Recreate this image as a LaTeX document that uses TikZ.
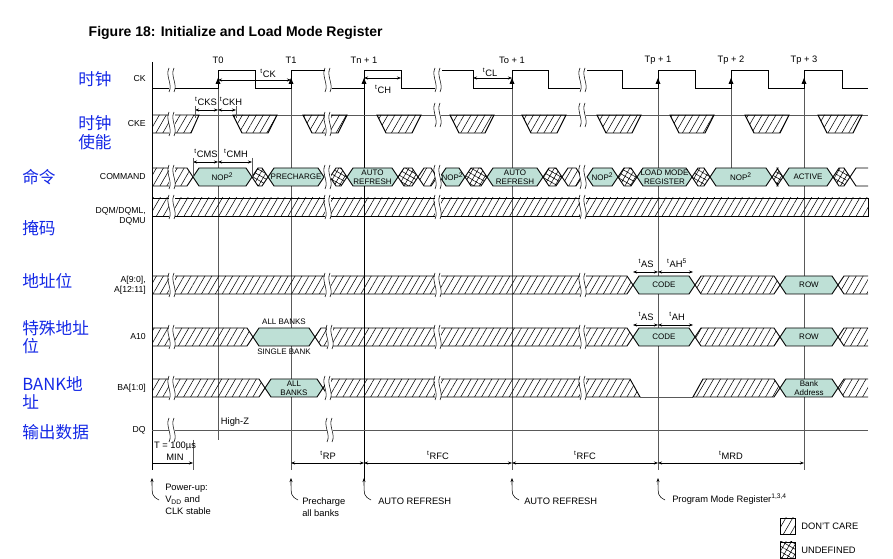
\documentclass[tikz,border=0pt]{standalone}
\usepackage{fontspec}
\setmainfont{Liberation Sans}
\newfontfamily\cjk{Noto Sans CJK SC}
\usetikzlibrary{patterns.meta,arrows.meta}
\definecolor{teal1}{RGB}{190,224,214}
\definecolor{cnblue}{RGB}{20,40,230}
\tikzset{hatch/.style={pattern={Lines[angle=60,distance=4.5pt,line width=0.4pt]}},
 xhatch/.style={pattern={Hatch[angle=60,distance=3.5pt,line width=0.4pt]}}}
\newcommand\vseg[4]{\filldraw[sig,fill=teal1] (#1,#3) -- ({#1+6},{#3-9}) -- ({#2-6},{#3-9}) -- (#2,#3) -- ({#2-6},{#3+9}) -- ({#1+6},{#3+9}) -- cycle;
 \node[lbl,align=center] at ({(#1+#2)/2},#3) {#4};}
\newcommand\hseg[3]{\filldraw[sig,hatch] (#1,#3) -- ({#1+6},{#3-9}) -- ({#2-6},{#3-9}) -- (#2,#3) -- ({#2-6},{#3+9}) -- ({#1+6},{#3+9}) -- cycle;}
\newcommand\xseg[3]{\filldraw[sig,xhatch] (#1,#3) -- ({#1+6},{#3-9}) -- ({#2-6},{#3-9}) -- (#2,#3) -- ({#2-6},{#3+9}) -- ({#1+6},{#3+9}) -- cycle;}
\newcommand\brk[2]{\fill[white] ({#1-3},{#2-12}) rectangle ({#1+3},{#2+12});
 \draw[thin] ({#1-3},{#2-12}) .. controls ({#1-7},{#2-4}) and ({#1+1},{#2+4}) .. ({#1-3},{#2+12});
 \draw[thin] ({#1+2},{#2-12}) .. controls ({#1-2},{#2-4}) and ({#1+6},{#2+4}) .. ({#1+2},{#2+12});}
\newcommand\trap[2]{\filldraw[sig,hatch] (#1,115) -- (#2,115) -- ({#2-9},133) -- ({#1+9},133) -- cycle;}
\begin{document}
\begin{tikzpicture}[x=0.75pt,y=-0.75pt,
 sig/.style={line width=0.7pt},
 ref/.style={gray!70!black,line width=0.4pt},
 lbl/.style={font=\fontsize{6}{6.5}\selectfont,inner sep=0pt},
 tl/.style={font=\fontsize{7}{8}\selectfont,inner sep=0pt},
 cn/.style={font=\cjk\fontsize{12.5}{14}\selectfont,text=cnblue,anchor=west,align=left,inner sep=0pt},
 sn/.style={font=\fontsize{6.5}{7.5}\selectfont,anchor=east,align=right,inner sep=0pt},
 dim/.style={{Stealth[length=3pt]}-{Stealth[length=3pt]},line width=0.4pt},
 up/.style={-{Stealth[length=3pt]},line width=0.4pt}]
\path[use as bounding box] (0,0) rectangle (893,559);
\node[font=\bfseries\fontsize{10.5}{12}\selectfont,anchor=west] (title) at (84,33) {Figure 18: Initialize and Load Mode Register};
% chinese labels
\node[cn] (c1) at (78,79) {时钟};
\node[cn] (c2) at (78,133) {时钟\\使能};
\node[cn] (c3) at (22,177) {命令};
\node[cn] (c4) at (22,228) {掩码};
\node[cn] (c5) at (22,281) {地址位};
\node[cn] (c6) at (22,337) {特殊地址\\位};
\node[cn] (c7) at (22,393) {BANK地\\址};
\node[cn] (c8) at (22,432) {输出数据};
% signal names
\node[sn] (s1) at (146,79) {CK};
\node[sn] (s2) at (146,124) {CKE};
\node[sn] (s3) at (146,177) {COMMAND};
\node[sn] (s4) at (146,216) {DQM/DQML,\\DQMU};
\node[sn] (s5) at (146,285) {A[9:0],\\A[12:11]};
\node[sn] (s6) at (146,337) {A10};
\node[sn] (s7) at (146,388) {BA[1:0]};
\node[sn] (s8) at (146,430) {DQ};
% reference lines
\draw[line width=0.5pt] (152,62) -- (152,470);
\foreach \x/\b in {218/440,291/470,512/470,658/470,804/470}{\draw[ref] (\x,88) -- (\x,\b);}
\draw[ref] (731,88) -- (731,177);
\draw[line width=0.6pt] (364,88) -- (364,480);
% time labels
\foreach \x/\t in {218/T0,291/T1,364/Tn + 1,512/To + 1,658/Tp + 1,731/Tp + 2,804/Tp + 3}{\node[tl] at (\x,60) {\t};}
% clock
\draw[sig] (152,88) -- (218,88) -- (218,70) -- (255,70) -- (255,88) -- (291,88) -- (291,70) -- (325,70);
\draw[sig] (332,88) -- (364,88) -- (364,70) -- (401,70) -- (401,88) -- (435,88);
\draw[sig] (442,70) -- (473,70) -- (473,88) -- (512,88) -- (512,70) -- (548,70) -- (548,88) -- (580,88);
\draw[sig] (587,70) -- (622,70) -- (622,88) -- (658,88) -- (658,70) -- (695,70) -- (695,88) -- (731,88) -- (731,70) -- (768,70) -- (768,88) -- (804,88) -- (804,70) -- (842,70) -- (842,88) -- (868,88);
\foreach \x in {218,291,364,512,658,731,804}{\fill (\x,78) -- ({\x-2.5},84) -- ({\x+2.5},84) -- cycle;}
\brk{172}{80}\brk{328}{80}\brk{438}{80}\brk{583}{80}
\draw[dim] (218,80) -- (291,80); \node[tl] at (268,73) {\textsuperscript{t}CK};
\draw[dim] (364,78) -- (401,78); \node[tl] at (383,89) {\textsuperscript{t}CH};
\draw[dim] (473,78) -- (512,78); \node[tl] at (490,72) {\textsuperscript{t}CL};
% CKE
\draw[ref] (193,115) -- (868,115);
\filldraw[sig,hatch] (152,115) -- (199,115) -- (191,133) -- (152,133);
\foreach \a in {233,303,377,450,522,597,670,745,818}{\trap{\a}{\a+44}}
\brk{172}{124}\brk{328}{124}\brk{438}{115}\brk{583}{115}
\draw[dim] (195,110) -- (218,110); \draw[dim] (218,110) -- (236,110);
\draw[ref] (195,106) -- (195,118); \draw[ref] (236,106) -- (236,118);
\node[tl] at (206,101) {\textsuperscript{t}CKS}; \node[tl] at (231,101) {\textsuperscript{t}CKH};
% COMMAND
\filldraw[sig,hatch] (152,168) -- (187,168) -- (193,177) -- (187,186) -- (152,186);
\vseg{193}{252}{177}{NOP\textsuperscript{2}}
\xseg{252}{268}{177}
\vseg{268}{324}{177}{PRECHARGE}
\xseg{330}{347}{177}
\vseg{347}{398}{177}{AUTO\\REFRESH}
\xseg{398}{418}{177}
\hseg{418}{437}{177}
\vseg{440}{465}{177}{NOP\textsuperscript{2}}
\xseg{465}{487}{177}
\vseg{487}{543}{177}{AUTO\\REFRESH}
\xseg{543}{562}{177}
\hseg{562}{582}{177}
\vseg{587}{618}{177}{NOP\textsuperscript{2}}
\xseg{618}{637}{177}
\vseg{637}{692}{177}{LOAD MODE\\REGISTER}
\xseg{692}{710}{177}
\vseg{710}{772}{177}{NOP\textsuperscript{2}}
\xseg{772}{783}{177}
\vseg{783}{833}{177}{ACTIVE}
\xseg{833}{850}{177}
\draw[sig] (868,168) -- (856,168) -- (850,177) -- (856,186) -- (868,186);
\brk{172}{177}\brk{328}{177}\brk{438}{177}\brk{583}{177}
\draw[dim] (193,162) -- (218,162); \draw[dim] (218,162) -- (252,162);
\draw[ref] (193,158) -- (193,177); \draw[ref] (252,158) -- (252,177);
\node[tl] at (206,153) {\textsuperscript{t}CMS}; \node[tl] at (236,153) {\textsuperscript{t}CMH};
% DQM
\filldraw[sig,hatch] (152,198) rectangle (868,216);
\brk{172}{207}\brk{328}{207}\brk{438}{207}\brk{583}{207}
% A[9:0]
\filldraw[sig,hatch] (152,276) -- (627,276) -- (633,285) -- (627,294) -- (152,294);
\vseg{633}{695}{285}{CODE}
\hseg{695}{780}{285}
\vseg{780}{838}{285}{ROW}
\draw[sig,hatch] (868,276) -- (844,276) -- (838,285) -- (844,294) -- (868,294);
\brk{172}{285}\brk{328}{285}\brk{438}{285}\brk{583}{285}
\draw[dim] (633,272) -- (658,272); \draw[dim] (658,272) -- (693,272);
\node[tl] at (646,263) {\textsuperscript{t}AS}; \node[tl] at (677,263) {\textsuperscript{t}AH\textsuperscript{5}};
% A10
\filldraw[sig,hatch] (152,328) -- (247,328) -- (253,337) -- (247,346) -- (152,346);
\vseg{253}{315}{337}{}
\node[lbl] at (284,322) {ALL BANKS}; \node[lbl] at (284,352) {SINGLE BANK};
\hseg{315}{633}{337}
\vseg{633}{695}{337}{CODE}
\hseg{695}{780}{337}
\vseg{780}{838}{337}{ROW}
\draw[sig,hatch] (868,328) -- (844,328) -- (838,337) -- (844,346) -- (868,346);
\brk{172}{337}\brk{330}{337}\brk{438}{337}\brk{583}{337}
\draw[dim] (633,325) -- (658,325); \draw[dim] (658,325) -- (693,325);
\node[tl] at (646,316) {\textsuperscript{t}AS}; \node[tl] at (677,316) {\textsuperscript{t}AH};
% BA
\filldraw[sig,hatch] (152,379) -- (259,379) -- (265,388) -- (259,397) -- (152,397);
\vseg{265}{323}{388}{ALL\\BANKS}
\filldraw[sig,hatch] (323,388) -- (329,379) -- (630,379) -- (640,397) -- (329,397) -- cycle;
\draw[ref] (640,397) -- (693,397);
\filldraw[sig,hatch] (693,397) -- (703,379) -- (774,379) -- (780,388) -- (774,397) -- cycle;
\vseg{780}{838}{388}{Bank\\Address}
\draw[sig,hatch] (868,379) -- (844,379) -- (838,388) -- (844,397) -- (868,397);
\brk{172}{388}\brk{328}{388}\brk{438}{388}\brk{583}{388}
% DQ
\draw[ref,line width=0.6pt] (152,430) -- (868,430);
\node[tl] at (235,422) {High-Z};
\brk{172}{430}\brk{330}{430}
% bottom timing
\draw[ref] (193,440) -- (193,470);
\node[tl,align=center] at (175,451) {T = 100µs\\[1pt]MIN};
\draw[up] (152,463) -- (193,463);
\draw[dim] (291,463) -- (364,463); \node[tl] at (328,455) {\textsuperscript{t}RP};
\draw[dim] (364,463) -- (512,463); \node[tl] at (438,455) {\textsuperscript{t}RFC};
\draw[dim] (512,463) -- (658,463); \node[tl] at (585,455) {\textsuperscript{t}RFC};
\draw[dim] (658,463) -- (804,463); \node[tl] at (731,455) {\textsuperscript{t}MRD};
\foreach \x in {152,291,364,512,658}{\draw[up] ({\x+7},500) .. controls (\x,496) .. (\x,478);}
\node[tl,anchor=north west,align=left] at (165,484) {Power-up:\\[1pt]V\textsubscript{DD} and\\[1pt]CLK stable};
\node[tl,anchor=north west,align=left] at (302,497) {Precharge\\[1pt]all banks};
\node[tl,anchor=west] at (378,501) {AUTO REFRESH};
\node[tl,anchor=west] at (524,501) {AUTO REFRESH};
\node[tl,anchor=west] at (672,499) {Program Mode Register\textsuperscript{1,3,4}};
% legend
\filldraw[line width=0.4pt,hatch] (780,518) rectangle (795,534);
\node[tl,anchor=west] at (801,526) {DON'T CARE};
\filldraw[line width=0.4pt,xhatch] (780,542) rectangle (795,558);
\node[tl,anchor=west] at (801,550) {UNDEFINED};
\end{tikzpicture}
\end{document}
